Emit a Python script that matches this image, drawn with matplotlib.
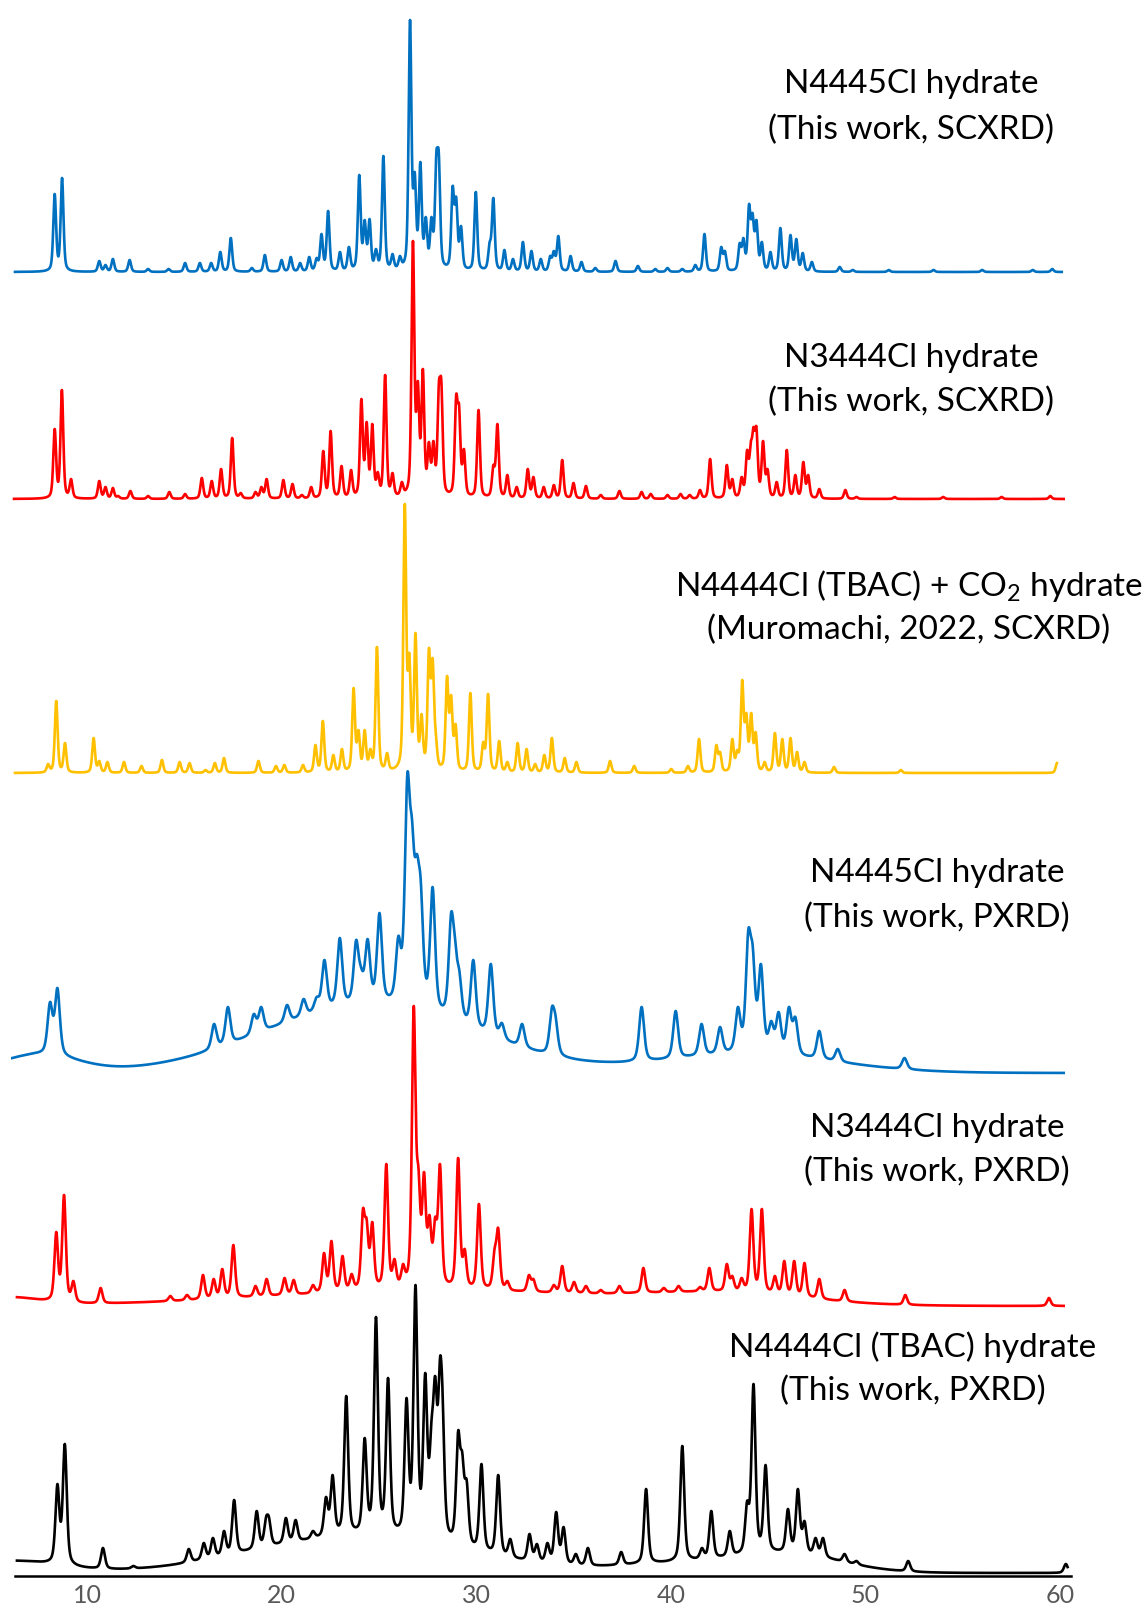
import numpy as np
import matplotlib
matplotlib.use("Agg")
import matplotlib.pyplot as plt

# ---------------- data ----------------
# (2-theta in degrees, peak-top height in px above the trace's own baseline)
scxrd_n4445 = [
    (8.34, 78), (8.72, 94), (10.63, 11), (10.95, 7), (11.33, 13), (12.19, 12), (13.14, 3),
    (14.19, 3), (15.04, 9), (15.8, 9), (16.38, 9), (16.85, 20), (17.39, 34), (18.47, 4),
    (19.14, 17), (20.0, 12), (20.47, 15), (20.95, 9), (21.42, 15), (21.8, 14), (22.05, 38),
    (22.39, 61), (23.0, 20), (23.46, 25), (23.99, 97), (24.27, 52), (24.52, 53), (24.85, 23),
    (25.23, 116), (25.7, 18), (26.08, 16), (26.6, 252), (26.84, 100), (27.13, 110),
    (27.41, 55), (27.7, 55), (27.95, 119), (28.08, 119), (28.79, 86), (28.97, 75),
    (29.22, 46), (29.98, 80), (30.69, 30), (30.88, 74), (31.45, 22), (31.89, 13), (32.4, 30),
    (32.84, 21), (33.32, 13), (33.8, 16), (33.99, 21), (34.22, 36), (34.85, 16), (35.41, 10),
    (36.12, 4), (37.16, 11), (38.31, 6), (39.2, 3), (39.83, 4), (40.59, 3), (41.26, 7),
    (41.73, 38), (42.59, 25), (42.78, 21), (43.54, 29), (43.73, 34), (44.02, 68), (44.2, 59),
    (44.4, 52), (44.68, 30), (45.12, 20), (45.63, 44), (46.15, 37), (46.45, 33), (46.78, 19),
    (47.25, 10), (48.68, 5), (49.35, 2), (51.2, 2), (53.5, 2), (56.0, 2), (58.6, 2), (59.6, 3),
]
scxrd_n3444 = [
    (8.34, 70), (8.71, 109), (9.18, 20), (10.63, 18), (10.95, 12), (11.33, 11), (11.6, 3),
    (12.23, 8), (13.14, 3), (14.23, 7), (15.04, 5), (15.9, 21), (16.41, 18), (16.89, 30),
    (17.46, 61), (17.9, 6), (18.66, 7), (18.96, 12), (19.23, 20), (20.09, 19), (20.56, 15),
    (21.04, 4), (21.52, 12), (22.14, 48), (22.52, 68), (23.08, 33), (23.57, 29), (24.1, 100),
    (24.37, 77), (24.66, 75), (24.94, 27), (25.32, 124), (25.7, 26), (26.18, 17), (26.75, 258),
    (27.0, 118), (27.26, 130), (27.57, 57), (27.8, 58), (28.08, 116), (28.21, 118),
    (28.97, 104), (29.12, 94), (29.37, 50), (30.12, 89), (30.88, 34), (31.09, 75), (31.6, 24),
    (32.08, 12), (32.65, 30), (32.94, 22), (33.47, 12), (33.99, 14), (34.42, 39), (35.0, 16),
    (35.64, 13), (36.4, 4), (37.36, 8), (38.5, 7), (38.97, 5), (39.83, 4), (40.5, 5),
    (40.97, 4), (41.5, 9), (42.02, 40), (42.88, 34), (43.16, 20), (43.64, 22), (43.92, 49),
    (44.11, 57), (44.25, 72), (44.4, 72), (44.74, 58), (44.97, 30), (45.44, 17), (45.96, 49),
    (46.4, 24), (46.81, 37), (47.06, 24), (47.63, 10), (48.97, 9), (49.54, 2), (51.5, 2),
    (54.0, 2), (57.0, 2), (59.5, 3),
]
scxrd_tbac_co2 = [
    (8.0, 9), (8.42, 72), (8.87, 30), (10.34, 35), (10.63, 12), (11.05, 11), (11.9, 11),
    (12.8, 7), (13.85, 13), (14.76, 11), (15.27, 10), (16.09, 3), (16.57, 10), (17.04, 15),
    (18.81, 12), (19.71, 7), (20.14, 8), (21.1, 8), (21.74, 28), (22.12, 52), (22.66, 18),
    (23.1, 24), (23.7, 85), (23.95, 43), (24.27, 43), (24.56, 24), (24.9, 126), (25.42, 20),
    (26.33, 269), (26.56, 120), (26.88, 140), (27.19, 59), (27.57, 125), (27.76, 115),
    (27.92, 41), (28.5, 97), (28.71, 78), (28.94, 49), (29.7, 80), (30.36, 31), (30.61, 79),
    (31.18, 32), (31.6, 11), (32.13, 30), (32.59, 24), (33.03, 9), (33.5, 18), (33.89, 35),
    (34.55, 15), (35.15, 11), (36.88, 12), (38.12, 7), (40.02, 4), (40.88, 7), (41.45, 34),
    (42.34, 28), (42.53, 21), (43.16, 34), (43.41, 23), (43.67, 93), (43.88, 60), (44.13, 60),
    (44.36, 41), (44.82, 11), (45.35, 40), (45.73, 34), (46.15, 35), (46.49, 21), (46.87, 11),
    (48.39, 6), (51.82, 3), (59.85, 10),
]
# powder patterns: (2-theta, peak-top height in px above the x axis)
pxrd_n4445 = [
    (8.1, 574), (8.48, 588), (16.53, 552), (17.24, 569), (18.57, 562), (18.95, 569),
    (20.28, 571), (21.13, 577), (21.8, 579), (22.2, 616), (22.99, 638), (23.83, 636),
    (24.08, 609), (24.42, 637), (25.03, 663), (26.0, 640), (26.46, 802), (26.7, 757),
    (26.95, 722), (27.15, 696), (27.76, 689), (28.71, 663), (28.9, 640), (29.13, 606),
    (29.85, 616), (30.75, 612), (31.32, 553), (32.36, 552), (33.89, 569), (34.08, 560),
    (38.5, 569), (40.25, 565), (41.58, 552), (42.53, 549), (43.45, 569), (43.98, 646),
    (44.21, 630), (44.63, 612), (45.16, 555), (45.54, 564), (46.07, 569), (46.4, 559),
    (47.63, 545), (48.58, 527), (52.01, 518),
]
pxrd_n3444 = [
    (8.42, 344), (8.82, 381), (9.3, 295), (10.7, 288), (14.28, 280), (15.14, 281),
    (15.96, 301), (16.51, 297), (16.95, 307), (17.52, 331), (18.66, 290), (19.23, 297),
    (20.15, 298), (20.62, 296), (21.61, 291), (22.18, 323), (22.56, 335), (23.13, 320),
    (23.6, 302), (24.18, 367), (24.37, 357), (24.66, 354), (25.38, 412), (25.8, 317),
    (26.24, 312), (26.79, 570), (27.03, 409), (27.32, 404), (27.6, 361), (27.89, 359),
    (28.14, 412), (29.07, 418), (29.41, 327), (30.14, 372), (30.94, 327), (31.13, 348),
    (31.6, 295), (32.71, 301), (32.94, 297), (33.99, 291), (34.42, 310), (35.03, 294),
    (35.64, 290), (36.4, 286), (37.36, 290), (38.59, 308), (39.64, 288), (40.4, 290),
    (41.5, 289), (41.98, 308), (42.88, 312), (43.16, 300), (43.64, 298), (44.15, 367),
    (44.68, 367), (45.35, 300), (45.83, 315), (46.34, 315), (46.87, 313), (47.63, 297),
    (48.93, 286), (52.05, 281), (59.43, 278),
]
pxrd_tbac = [
    (8.48, 92), (8.86, 132), (10.82, 28), (12.38, 10), (15.23, 27), (16.0, 33), (16.47, 38),
    (17.04, 45), (17.56, 76), (18.72, 65), (19.2, 59), (19.35, 59), (20.22, 58), (20.72, 56),
    (21.61, 45), (22.28, 79), (22.62, 101), (23.32, 180), (24.27, 138), (24.85, 259),
    (25.47, 198), (26.42, 178), (26.88, 291), (27.38, 203), (27.7, 155), (27.89, 200),
    (28.14, 218), (28.27, 185), (29.07, 145), (29.28, 124), (29.51, 96), (30.27, 112),
    (31.13, 101), (31.75, 37), (32.74, 42), (33.12, 32), (33.66, 33), (34.11, 64), (34.49, 49),
    (35.12, 22), (35.74, 28), (37.45, 24), (38.73, 87), (40.59, 130), (41.6, 28), (42.08, 65),
    (43.03, 45), (43.92, 75), (44.25, 192), (44.87, 111), (46.02, 67), (46.53, 87),
    (46.87, 55), (47.44, 38), (47.82, 38), (48.93, 22), (49.54, 15), (52.2, 15), (60.3, 12),
]
# broad backgrounds of the powder patterns: (centre, height, sigma) humps on a flat level
bg_n4445_level = 503
bg_n4445_humps = [(7.5, 18, 2.0), (24.5, 67, 5.5), (44.0, 18, 4.5)]
bg_n3444_level = 270
bg_n3444_humps = [(6.0, 8, 1.5), (28.0, 15, 9.0), (43.0, 10, 4.0)]
bg_tbac_level = 3
bg_tbac_humps = [(6.0, 12, 2.5), (24.0, 36, 5.5), (40.0, 8, 3.0), (46.0, 18, 2.8)]

labels = [
    ("N4445Cl hydrate", "(This work, SCXRD)"),
    ("N3444Cl hydrate", "(This work, SCXRD)"),
    ("N4444Cl (TBAC) + CO$_\\mathregular{2}$ hydrate", "(Muromachi, 2022, SCXRD)"),
    ("N4445Cl hydrate", "(This work, PXRD)"),
    ("N3444Cl hydrate", "(This work, PXRD)"),
    ("N4444Cl (TBAC) hydrate", "(This work, PXRD)"),
]
xticks = [10, 20, 30, 40, 50, 60]

# ---------------- helpers ----------------
def pv(x, c, fwhm, eta):
    d = (x - c) / fwhm
    return eta / (1 + 4 * d ** 2) + (1 - eta) * np.exp(-4 * np.log(2) * d ** 2)

def make_bg(level, humps):
    def f(x):
        x = np.asarray(x, float)
        y = np.full_like(x, level, dtype=float)
        for c, h, s in humps:
            y = y + h * np.exp(-0.5 * ((x - c) / s) ** 2)
        return y
    return f

def profile(x, peaks, fwhm, eta, bg):
    pos = np.array([p for p, _ in peaks], float)
    top = np.array([h for _, h in peaks], float)
    tgt = np.clip(top - bg(pos), 0.5, None)
    A = pv(pos[:, None], pos[None, :], fwhm, eta)
    a = tgt.copy()
    for _ in range(400):
        a *= tgt / (A @ a)
    return bg(x) + pv(x[:, None], pos[None, :], fwhm, eta) @ a

# ---------------- figure ----------------
plt.rcParams["mathtext.fontset"] = "custom"
plt.rcParams["mathtext.rm"] = "Lato"

W, H = 1144, 1613
fig = plt.figure(figsize=(W / 100, H / 100), dpi=100)
axis_y = 1576
x0, x1 = 6.1, 60.6
left_px = 87 - (10 - x0) * 19.46
right_px = 87 + (x1 - 10) * 19.46
ax = fig.add_axes([left_px / W, (H - axis_y) / H, (right_px - left_px) / W, axis_y / H])
ax.set_xlim(x0, x1)
ax.set_ylim(0, axis_y)

traces = [
    # peaks, baseline level, bg humps, fwhm, eta, colour, start, end, relative?
    (scxrd_n4445, 1304, [], 0.17, 0.45, "#0070C0", 6.3, 60.1, True),
    (scxrd_n3444, 1077, [], 0.17, 0.45, "#FF0000", 6.25, 60.2, True),
    (scxrd_tbac_co2, 803, [], 0.17, 0.45, "#FFC000", 6.3, 59.85, True),
    (pxrd_n4445, bg_n4445_level, bg_n4445_humps, 0.3, 0.5, "#0070C0", 6.15, 60.2, False),
    (pxrd_n3444, bg_n3444_level, bg_n3444_humps, 0.22, 0.5, "#FF0000", 6.4, 60.2, False),
    (pxrd_tbac, bg_tbac_level, bg_tbac_humps, 0.24, 0.5, "#000000", 6.4, 60.4, False),
]
for peaks, level, humps, fwhm, eta, col, xs, xe, rel in traces:
    bg = make_bg(level, humps)
    pk = [(p, h + level) for p, h in peaks] if rel else peaks
    x = np.arange(xs, xe, 0.01)
    y = profile(x, pk, fwhm, eta, bg)
    ax.plot(x, y, color=col, lw=1.9, solid_joinstyle="round")

for s in ["top", "right", "left"]:
    ax.spines[s].set_visible(False)
ax.spines["bottom"].set_bounds(6.3, 60.55)
ax.spines["bottom"].set_linewidth(1.8)
ax.set_yticks([])
ax.set_xticks(xticks)
ax.tick_params(axis="x", length=0, pad=6, labelsize=18, labelcolor="#595959")
for t in ax.get_xticklabels():
    t.set_fontfamily("Lato")

label_pos = [(911, 84, 130), (911, 358, 402), (909, 586, 630),
             (937, 873, 918), (937, 1128, 1172), (913, 1347, 1391)]
for (l1, l2), (cx, y1, y2) in zip(labels, label_pos):
    fig.text(cx / W, 1 - y1 / H, l1, ha="center", va="center", fontsize=24,
             family="Lato", color="black")
    fig.text(cx / W, 1 - y2 / H, l2, ha="center", va="center", fontsize=24,
             family="Lato", color="black")

fig.savefig("out.png", dpi=100)
